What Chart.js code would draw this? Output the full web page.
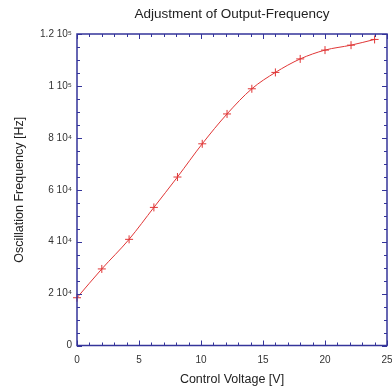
<!DOCTYPE html>
<html>
<head>
<meta charset="utf-8">
<script src="https://cdn.jsdelivr.net/npm/chart.js@4"></script>
<style>
  body { margin: 0; background: #fff; }
  #wrap { width: 392px; height: 390px; }
</style>
</head>
<body>
<div id="wrap"><canvas id="chartCanvas" width="392" height="390"></canvas></div>
<script>
// Chart data
const voltage = [0, 2, 4.2, 6.2, 8.1, 10.1, 12.1, 14.1, 16, 18, 20, 22.1, 24];
const frequency = [18400, 29500, 40900, 53200, 64900, 77700, 89200, 98900, 105200, 110400, 113800, 115700, 117900];

// Tick labels
const yTickValues = [0, 20000, 40000, 60000, 80000, 100000, 120000];
const yTickLabels = ['0', '2 10\u2074', '4 10\u2074', '6 10\u2074', '8 10\u2074', '1 10\u2075', '1.2 10\u2075'];

const chartTitle = 'Adjustment of Output-Frequency';

const axisColor = '#34349a';
const textColor = '#333333';
const lineColor = '#e03636';

// Frame with inward ticks on all four sides, title centred over the plot
const framePlugin = {
  id: 'frame',
  afterDatasetsDraw(chart) {
    const ctx = chart.ctx;
    const area = chart.chartArea;
    const xs = chart.scales.x;
    const ys = chart.scales.y;
    ctx.save();
    ctx.strokeStyle = axisColor;
    ctx.lineWidth = 1;
    ctx.beginPath();
    // x ticks, minor every 1, major every 5
    for (let v = 0; v <= 25; v += 1) {
      const px = Math.round(xs.getPixelForValue(v)) + 0.5;
      const len = v % 5 === 0 ? 5 : 3;
      ctx.moveTo(px, area.bottom);
      ctx.lineTo(px, area.bottom - len);
      ctx.moveTo(px, area.top);
      ctx.lineTo(px, area.top + len);
    }
    // y ticks, minor every 5000, major every 20000
    for (let v = 0; v <= 120000; v += 5000) {
      const py = Math.round(ys.getPixelForValue(v)) + 0.5;
      const len = v % 20000 === 0 ? 5 : 3;
      ctx.moveTo(area.left, py);
      ctx.lineTo(area.left + len, py);
      ctx.moveTo(area.right, py);
      ctx.lineTo(area.right - len, py);
    }
    ctx.stroke();
    ctx.lineWidth = 1.5;
    ctx.strokeRect(area.left, area.top, area.right - area.left, area.bottom - area.top);

    // title
    ctx.fillStyle = '#222';
    ctx.font = '13.5px "Liberation Sans"';
    ctx.textAlign = 'center';
    ctx.textBaseline = 'middle';
    ctx.fillText(chartTitle, (area.left + area.right) / 2, 14.5);
    ctx.restore();
  }
};

new Chart(document.getElementById('chartCanvas'), {
  type: 'scatter',
  data: {
    datasets: [{
      label: 'Frequency',
      data: voltage.map((v, i) => ({ x: v, y: frequency[i] })),
      showLine: true,
      borderColor: lineColor,
      backgroundColor: lineColor,
      borderWidth: 1,
      cubicInterpolationMode: 'monotone',
      pointStyle: 'cross',
      pointRadius: 4,
      pointBorderWidth: 1,
      pointBorderColor: lineColor
    }]
  },
  options: {
    responsive: false,
    animation: false,
    clip: false,
    layout: { padding: { left: 0, right: 2.5, top: 34, bottom: 0 } },
    plugins: {
      legend: { display: false },
      tooltip: { enabled: false },
      title: { display: false }
    },
    scales: {
      x: {
        type: 'linear',
        min: 0,
        max: 25,
        grid: { display: false, drawTicks: false },
        border: { display: false },
        ticks: {
          stepSize: 5,
          padding: 9,
          color: textColor,
          maxRotation: 0,
          font: { family: 'Liberation Sans', size: 10 }
        },
        title: {
          display: true,
          text: 'Control Voltage [V]',
          color: '#222',
          font: { family: 'Liberation Sans', size: 12.5 },
          padding: { top: 0, bottom: 2.5 }
        },
        afterFit(scale) {
          scale.height = 44.5;
          scale.paddingLeft = 0;
          scale.paddingRight = 0;
        }
      },
      y: {
        type: 'linear',
        min: 0,
        max: 120000,
        afterBuildTicks(scale) { scale.ticks = yTickValues.map(v => ({ value: v })); },
        grid: { display: false, drawTicks: false },
        border: { display: false },
        ticks: {
          padding: 5,
          color: textColor,
          font: { family: 'Liberation Sans', size: 10 },
          callback: (value) => {
            const i = yTickValues.indexOf(value);
            return i >= 0 ? yTickLabels[i] : '';
          }
        },
        title: {
          display: true,
          text: 'Oscillation Frequency [Hz]',
          color: '#222',
          font: { family: 'Liberation Sans', size: 12.5 },
          padding: { top: 12.5, bottom: 0 }
        },
        afterFit(scale) {
          scale.width = 77;
          scale.paddingTop = 0;
          scale.paddingBottom = 0;
        }
      }
    }
  },
  plugins: [framePlugin]
});
</script>
</body>
</html>
